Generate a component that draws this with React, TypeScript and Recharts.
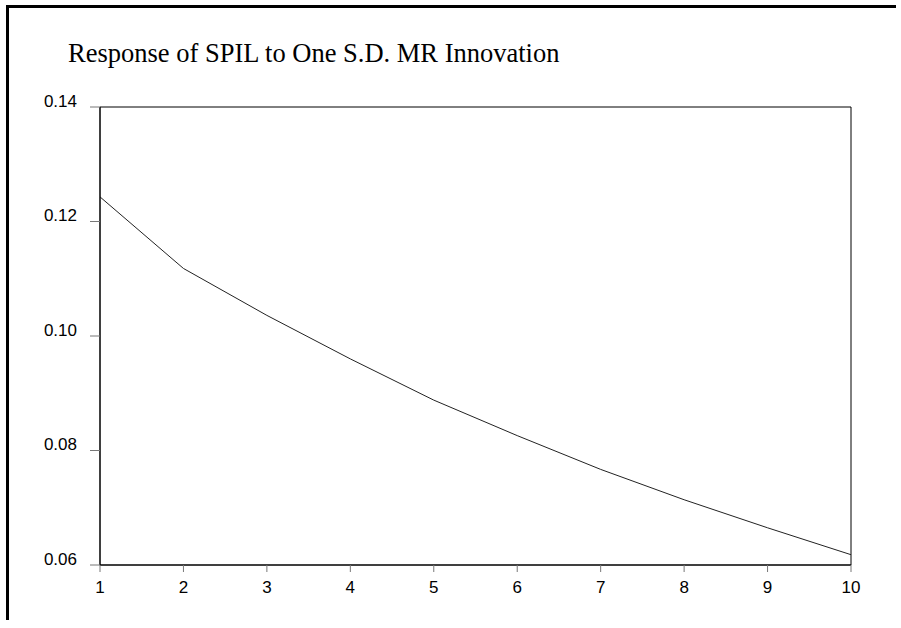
import React from 'react'
import { LineChart, Line, XAxis, YAxis, ReferenceArea } from 'recharts'

const periods = [1, 2, 3, 4, 5, 6, 7, 8, 9, 10]
const response = [0.1243, 0.1118, 0.1036, 0.096, 0.0888, 0.0826, 0.0767, 0.0714, 0.0665, 0.0618]
const yTicks = [0.06, 0.08, 0.1, 0.12, 0.14]

const data = periods.map((p, i) => ({ period: p, value: response[i] }))

const YTick = (props: any) => {
  const { x, y, payload } = props
  return (
    <text x={x - 11} y={y - 6} dy="0.35em" textAnchor="end" fontSize={17} fill="#000"
      fontFamily="'Liberation Sans', Arial, sans-serif">
      {payload.value.toFixed(2)}
    </text>
  )
}

const XTick = (props: any) => {
  const { x, y, payload } = props
  return (
    <text x={x} y={y + 19} textAnchor="middle" fontSize={17} fill="#000"
      fontFamily="'Liberation Sans', Arial, sans-serif">
      {payload.value}
    </text>
  )
}

export default function App() {
  return (
    <div style={{ position: 'absolute', left: 0, top: 0, width: 896, height: 620, background: '#fff', overflow: 'hidden' }}>
      <div style={{ position: 'absolute', left: 6, top: 5, width: 890, height: 3, background: '#000' }} />
      <div style={{ position: 'absolute', left: 6, top: 5, width: 3, height: 615, background: '#000' }} />
      <div style={{ position: 'absolute', left: 68, top: 40, fontFamily: "'Liberation Serif', 'Times New Roman', serif", fontSize: 26.5, lineHeight: '27px', color: '#000', whiteSpace: 'nowrap' }}>
        Response of SPIL to One S.D. MR Innovation
      </div>
      <div style={{ position: 'absolute', left: 0, top: 0 }}>
        <LineChart width={880} height={620} data={data} margin={{ top: 107, right: 29, left: 0, bottom: 0 }}>
          <XAxis dataKey="period" type="number" domain={[1, 10]} ticks={periods} height={55}
            axisLine={{ stroke: '#000' }} tickLine={{ stroke: '#777' }} tickSize={7} tick={<XTick />} />
          <YAxis type="number" domain={[0.06, 0.14]} ticks={yTicks} width={100}
            axisLine={{ stroke: '#000' }} tickLine={{ stroke: '#777' }} tickSize={10} tick={<YTick />} />
          <ReferenceArea x1={1} x2={10} y1={0.06} y2={0.14} stroke="#000" strokeWidth={1} fill="none" fillOpacity={0} />
          <Line dataKey="value" type="linear" stroke="#222" strokeWidth={1} dot={false} isAnimationActive={false} />
        </LineChart>
      </div>
    </div>
  )
}
